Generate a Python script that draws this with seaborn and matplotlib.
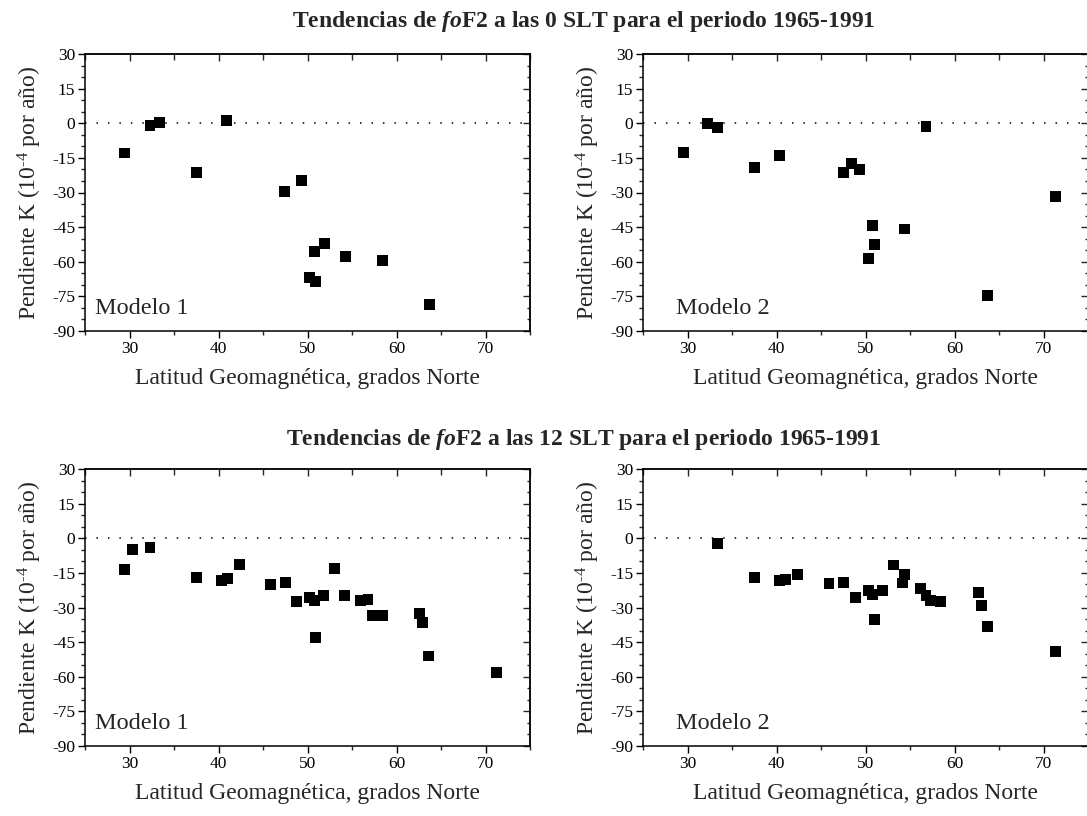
import matplotlib
matplotlib.use("Agg")
import matplotlib.pyplot as plt
from matplotlib.ticker import MultipleLocator, FixedLocator
import seaborn as sns
import pandas as pd

# ---- data ----
lat_0slt_m1 = [29.4, 32.3, 33.4, 37.5, 40.9, 47.4, 49.3, 50.2, 50.8, 50.9, 51.9, 54.3, 58.4, 63.7]
k_0slt_m1 = [-12.9, -0.8, 0.2, -21.3, 1.0, -29.5, -24.6, -66.8, -55.5, -68.4, -52.2, -57.8, -59.5, -78.4]

lat_0slt_m2 = [29.5, 32.2, 33.4, 37.5, 40.3, 47.5, 48.4, 49.3, 56.8, 50.8, 51.0, 50.3, 54.4, 71.3, 63.7]
k_0slt_m2 = [-12.6, -0.1, -1.9, -19.1, -14.1, -21.4, -17.5, -19.9, -1.3, -44.2, -52.4, -58.4, -45.8, -31.7, -74.5]

lat_12slt_m1 = [29.4, 30.3, 32.3, 37.5, 40.3, 41.0, 42.4, 45.8, 47.5, 48.8, 50.2, 50.8, 51.8, 50.9,
                53.0, 54.2, 56.0, 56.8, 57.3, 58.4, 62.6, 62.9, 63.6, 71.2]
k_12slt_m1 = [-13.6, -5.0, -3.9, -17.0, -18.3, -17.4, -11.3, -19.9, -19.1, -27.3, -25.6, -27.1, -24.7, -43.0,
              -13.0, -24.9, -26.9, -26.6, -33.6, -33.6, -32.4, -36.4, -51.0, -58.2]

lat_12slt_m2 = [33.4, 37.5, 40.3, 41.0, 42.4, 45.9, 47.5, 48.9, 50.3, 50.8, 51.9, 51.0, 53.1, 54.4,
                54.2, 56.2, 56.8, 57.3, 58.4, 62.7, 63.0, 63.7, 71.3]
k_12slt_m2 = [-2.2, -17.1, -18.4, -18.0, -15.7, -19.5, -19.0, -25.7, -22.6, -24.3, -22.6, -35.3, -11.6, -15.9,
              -19.4, -21.8, -24.6, -27.0, -27.4, -23.7, -29.3, -38.1, -48.9]

model_labels = ["Modelo 1", "Modelo 2"]
titles = ["Tendencias de $\\mathit{fo}$F2 a las 0 SLT para el periodo 1965-1991",
          "Tendencias de $\\mathit{fo}$F2 a las 12 SLT para el periodo 1965-1991"]
xlabel = "Latitud Geomagnética, grados Norte"
ylabel = "Pendiente K (10$^{\u2010 4}$ por año)".replace("\u2010 4", "\u20104")
x_major = [30, 40, 50, 60, 70]
y_major = [30, 15, 0, -15, -30, -45, -60, -75, -90]

# ---- style ----
sns.set_style("ticks")
plt.rcParams["font.family"] = ["Liberation Serif", "DejaVu Serif"]
plt.rcParams["mathtext.fontset"] = "custom"
plt.rcParams["mathtext.rm"] = "Liberation Serif"
plt.rcParams["mathtext.it"] = "Liberation Serif:italic:bold"
plt.rcParams["mathtext.bf"] = "Liberation Serif:bold"
plt.rcParams["axes.unicode_minus"] = False

W, H = 1087, 816
fig = plt.figure(figsize=(W / 100, H / 100), dpi=100)

def px_axes(left, top, width, height):
    return fig.add_axes([left / W, (H - top - height) / H, width / W, height / H])

panels = [
    (85, 54, lat_0slt_m1, k_0slt_m1, 0, 0.022),
    (643, 54, lat_0slt_m2, k_0slt_m2, 1, 0.075),
    (85, 469, lat_12slt_m1, k_12slt_m1, 0, 0.022),
    (643, 469, lat_12slt_m2, k_12slt_m2, 1, 0.075),
]

for left, top, xs, ys, mi, tx in panels:
    ax = px_axes(left, top, 445, 277)
    df = pd.DataFrame({"lat": xs, "k": ys})
    ax.axhline(0, color="black", lw=1.1, ls=(0, (1, 6.5)), zorder=1)
    sns.scatterplot(data=df, x="lat", y="k", marker="s", s=62, color="black",
                    edgecolor="none", ax=ax, zorder=3)
    ax.set_xlim(25, 75)
    ax.set_ylim(-90, 30)
    ax.xaxis.set_major_locator(FixedLocator(x_major))
    ax.xaxis.set_minor_locator(MultipleLocator(5))
    ax.yaxis.set_major_locator(FixedLocator(y_major))
    ax.yaxis.set_minor_locator(MultipleLocator(5))
    ax.tick_params(axis="both", which="major", direction="out", length=5, width=1.0,
                   labelsize=12.5, pad=2, colors="black")
    ax.tick_params(axis="both", which="minor", direction="out", length=3, width=1.0)
    ax.tick_params(top=False, right=False, which="both")
    for sp in ax.spines.values():
        sp.set_linewidth(1.1)
        sp.set_color("black")
        sp.set_visible(True)
    # mirrored inward ticks on top and right
    sx = ax.secondary_xaxis("top")
    sx.xaxis.set_major_locator(FixedLocator(x_major))
    sx.xaxis.set_minor_locator(MultipleLocator(5))
    sx.tick_params(which="major", direction="in", length=5, width=1.0, labeltop=False)
    sx.tick_params(which="minor", direction="in", length=4, width=1.0)
    sx.spines["top"].set_linewidth(1.1)
    sy = ax.secondary_yaxis("right")
    sy.yaxis.set_major_locator(FixedLocator(y_major))
    sy.yaxis.set_minor_locator(MultipleLocator(5))
    sy.tick_params(which="major", direction="in", length=5, width=1.0, labelright=False)
    sy.tick_params(which="minor", direction="in", length=2.5, width=1.0)
    sy.spines["right"].set_linewidth(1.1)
    ax.set_xlabel(xlabel, fontsize=17, labelpad=8)
    ax.set_ylabel(ylabel, fontsize=17, labelpad=6)
    ax.text(tx, 0.06, model_labels[mi], transform=ax.transAxes, fontsize=17.5,
            ha="left", va="baseline")

fig.text(584 / W, 1 - 21 / H, titles[0], ha="center", va="center", fontsize=17, fontweight="bold")
fig.text(584 / W, 1 - 440 / H, titles[1], ha="center", va="center", fontsize=17, fontweight="bold")

fig.savefig("out.png", dpi=100)
